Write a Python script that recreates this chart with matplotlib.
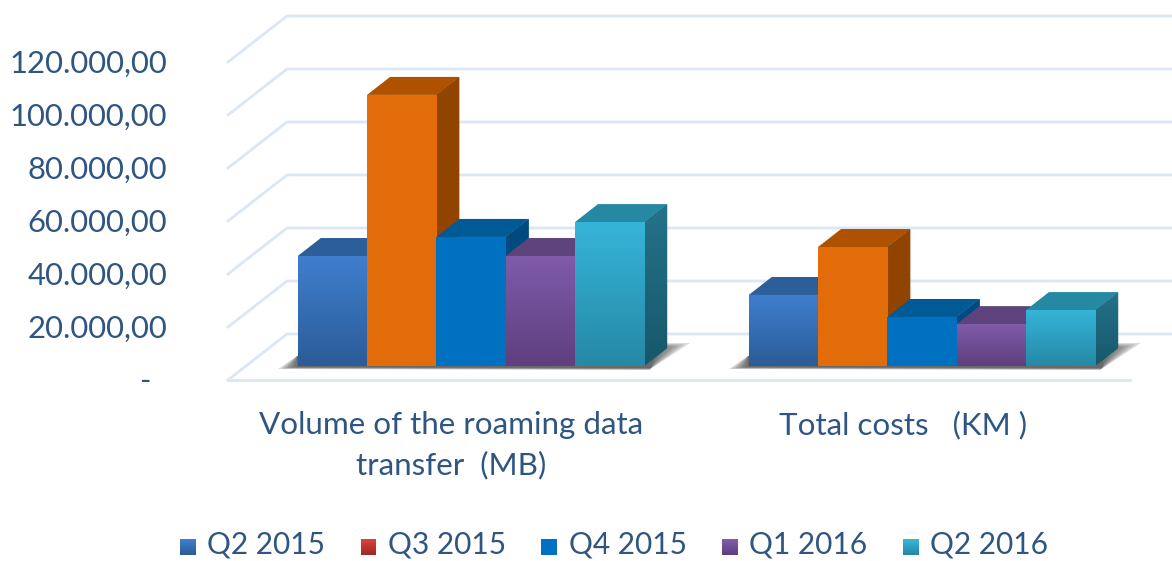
import numpy as np
import matplotlib
matplotlib.use('Agg')
import matplotlib.pyplot as plt
from matplotlib.colors import LinearSegmentedColormap
from matplotlib.legend_handler import HandlerBase
from matplotlib.patches import Polygon, Rectangle

plt.rcParams['font.family'] = ['Lato', 'DejaVu Sans']

categories = ['Volume of the roaming data\ntransfer  (MB)', 'Total costs   (KM )']
series = ['Q2 2015', 'Q3 2015', 'Q4 2015', 'Q1 2016', 'Q2 2016']
q2_2015 = [41500, 26800]
q3_2015 = [102300, 44900]
q4_2015 = [48700, 18500]
q1_2016 = [41500, 15800]
q2_2016 = [54300, 21100]
values = [q2_2015, q3_2015, q4_2015, q1_2016, q2_2016]
tick_values = [0, 20000, 40000, 60000, 80000, 100000, 120000]
tick_labels = ['-  ', '20.000,00', '40.000,00', '60.000,00', '80.000,00', '100.000,00', '120.000,00']

# front top, front bottom, top face, side top, side bottom
styles = [
    ('#3F7ECE', '#2C5C98', '#2C5F9A', '#26547F', '#1F4468'),
    ('#E36C0A', '#E36C0A', '#AE5200', '#914300', '#914300'),
    ('#0070C0', '#0070C0', '#005A96', '#004A80', '#004A80'),
    ('#7F5BA9', '#5F3F7F', '#5F437D', '#4C3366', '#3E2A55'),
    ('#36B4D8', '#2589A6', '#2589A3', '#24728A', '#17586A'),
]
legend_colors = [('#3F7ECE', '#2C5C98'), ('#D8413A', '#9C2A26'), ('#0070C0', '#0070C0'),
                 ('#7F5BA9', '#5F3F7F'), ('#36B4D8', '#2589A6')]
text_color = '#2F5583'
grid_color = '#DCE6F5'

W, H = 1172, 561
ax_left, ax_bottom = 175, 405
px_group = 451.0        # pixels between the two groups
px_value = 53 / 20000   # pixels per unit
x0, y0 = 471.0, 366.0   # pixel of group 0 centre / of value 0 on the bar base
bar_w = 69.3 / px_group
dep_x, dep_y = 23.0 / px_group, 18.0 / px_value


def px(xp, yp):
    return (xp - x0) / px_group, (y0 - yp) / px_value


def gradient(c1, c2, extent, zorder, clip=None):
    cmap = LinearSegmentedColormap.from_list('g', [c2, c1])
    im = ax.imshow(np.linspace(1, 0, 64).reshape(-1, 1), cmap=cmap, vmin=0, vmax=1, extent=extent,
                   aspect='auto', zorder=zorder, interpolation='bilinear')
    if clip is not None:
        im.set_clip_path(clip)
    return im


class GradientSquare(HandlerBase):
    def create_artists(self, legend, orig, xd, yd, width, height, fontsize, trans):
        c1, c2 = orig.colors
        cmap = LinearSegmentedColormap.from_list('g', [c2, c1])
        size = 11.5
        n = 8
        return [Rectangle((-xd, -1 - yd + size * (n - 1 - i) / n), size, size / n + .3,
                          fc=cmap(1 - i / (n - 1)), ec='none', transform=trans) for i in range(n)]


class Swatch(Rectangle):
    def __init__(self, colors):
        super().__init__((0, 0), 1, 1)
        self.colors = colors


fig = plt.figure(figsize=(W / 100, H / 100), dpi=100)
ax = fig.add_axes([ax_left / W, 1 - ax_bottom / H, (W - ax_left) / W, ax_bottom / H])
for s in ax.spines.values():
    s.set_visible(False)

# 3d grid: floor/wall lines run front left -> back left -> right edge
for v in tick_values:
    step = v * px_value
    xs, ys = zip(px(228, 380 - step), px(287, 334 - step), px(W, 334 - step))
    ax.plot(xs, ys, color=grid_color, lw=2, zorder=1, clip_on=False)
xs, ys = zip(px(228, 380), px(1130, 380))
ax.plot(xs, ys, color=grid_color, lw=2, zorder=1)

# soft shadow on the floor, stacked layers that grow darker near the bars
for g in range(2):
    for grow in [0, 3, 6, 9, 12, 15, 18]:
        t = grow / 18
        pts = [(278 + 19 * t, 369 - t * 2), (297, 356), (667, 343 + 5 * t),
               (690 - 34 * t, 343 + 8 * t), (649 + 2 * t, 370 - t * 2)]
        ax.add_patch(Polygon([px(a + g * px_group, b) for a, b in pts], fc='#333333', ec='none', alpha=.17, zorder=2))

# bars: left to right so that each one hides the side of the previous one
z = 3
for g in range(len(categories)):
    for i in range(len(series)):
        v = values[i][g]
        style = styles[i]
        left = g + (i - 2.5) * bar_w
        right = left + bar_w
        top = Polygon([(left, v), (right, v), (right + dep_x, v + dep_y), (left + dep_x, v + dep_y)],
                      fc=style[2], ec='none', zorder=z)
        ax.add_patch(top)
        side = Polygon([(right, 0), (right + dep_x, dep_y), (right + dep_x, v + dep_y), (right, v)],
                       fc=style[3], ec='none', zorder=z)
        ax.add_patch(side)
        gradient(style[3], style[4], (right, right + dep_x, 0, v + dep_y), z + .1, side)
        rect = ax.bar(left, v, width=bar_w, align='edge', color=style[0], zorder=z + .2)[0]
        gradient(style[0], style[1], (left, right, 0, v), z + .3, rect)
        z += 1

ax.set_xlim(px(ax_left, 0)[0], px(W, 0)[0])
ax.set_ylim(px(0, ax_bottom)[1], px(0, 0)[1])

ax.set_yticks([px(0, 379 - v * px_value)[1] for v in tick_values], tick_labels)
ax.set_xticks([px(451, 0)[0], px(903, 0)[0]], categories)
ax.tick_params(axis='both', length=0, labelcolor=text_color)
ax.tick_params(axis='y', pad=5.5, labelsize=22.3)
ax.tick_params(axis='x', pad=4, labelsize=22.6)
for label in ax.get_xticklabels():
    label.set_linespacing(1.52)

handles = [Swatch(c) for c in legend_colors]
ax.legend(handles, series, handler_map={Swatch: GradientSquare()}, ncol=5, frameon=False,
          loc='center', bbox_to_anchor=((614 - ax_left) / (W - ax_left), 1 - (545) / ax_bottom),
          fontsize=21.5, labelcolor=text_color, handlelength=.535, handletextpad=.37, columnspacing=1.2)

fig.savefig('out.png', dpi=100)
